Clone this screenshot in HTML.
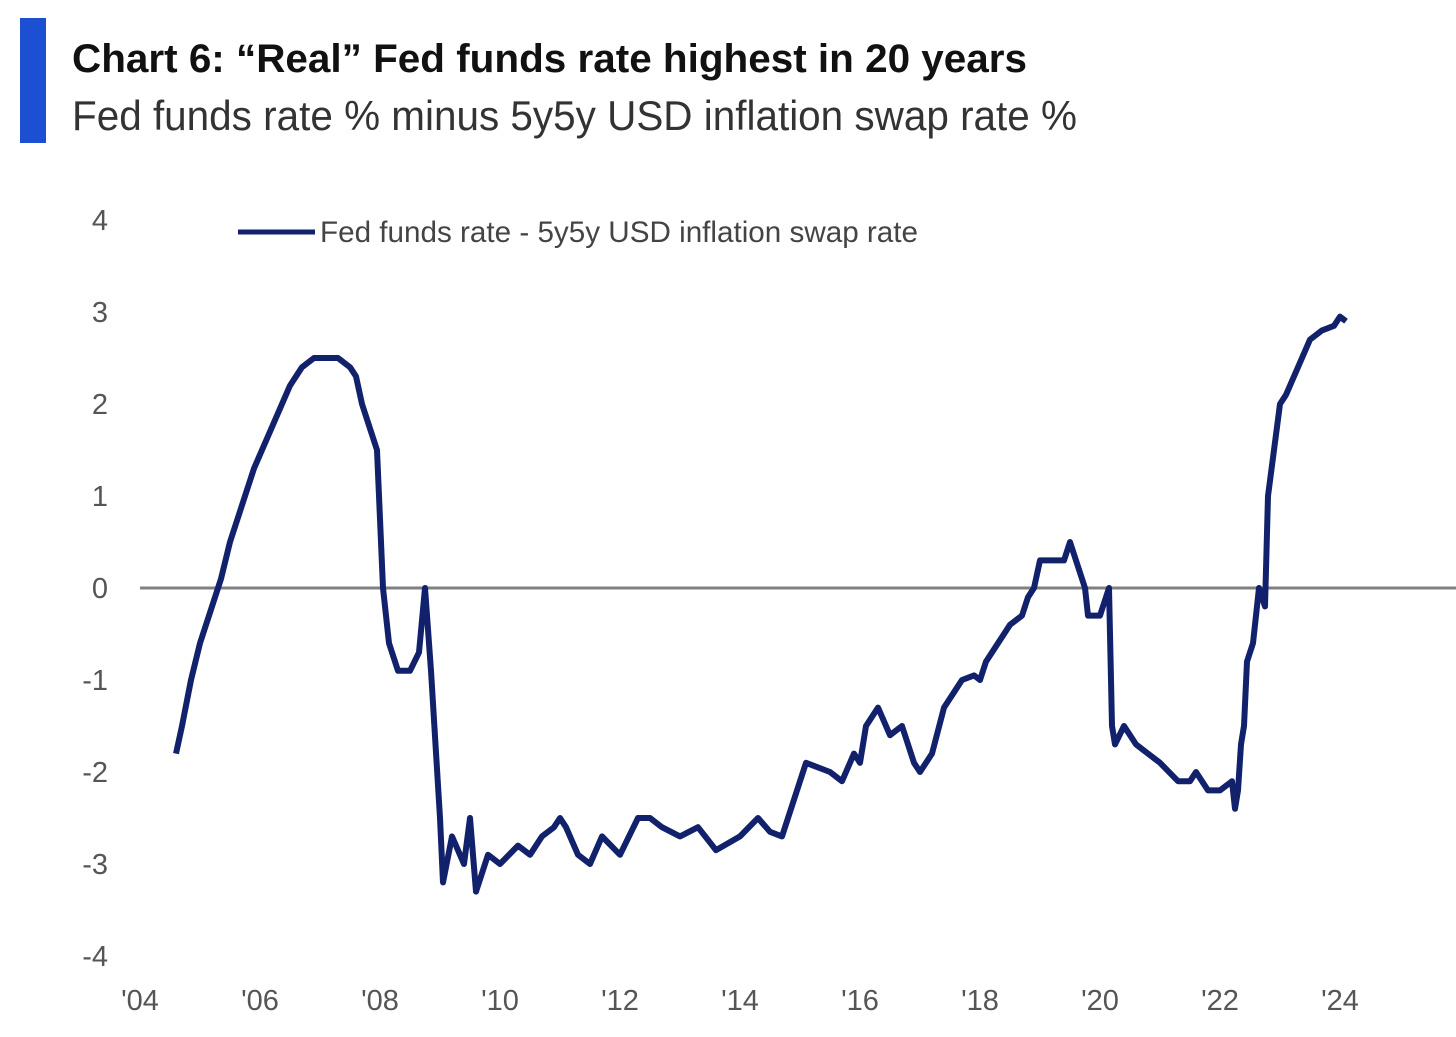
<!DOCTYPE html>
<html><head><meta charset="utf-8"><style>
body{margin:0;background:#fff;width:1456px;height:1032px;overflow:hidden}
svg text{font-family:"Liberation Sans Narrow","Liberation Sans",sans-serif}
</style></head><body>
<svg id="chart" width="1456" height="1032">
<rect x="20" y="18" width="26" height="125" fill="#1c4fd2"/>
<text x="72" y="72" font-size="40" font-weight="bold" fill="#111" textLength="955" lengthAdjust="spacingAndGlyphs">Chart 6: “Real” Fed funds rate highest in 20 years</text>
<text x="72" y="130" font-size="42" fill="#333" textLength="1005" lengthAdjust="spacingAndGlyphs">Fed funds rate % minus 5y5y USD inflation swap rate %</text>
<g id="yaxis"></g>
<g id="xaxis"></g>
<line x1="140" x2="1456" y1="588" y2="588" stroke="#808080" stroke-width="3"/>
<path id="series" fill="none" stroke="#12216b" stroke-width="6" stroke-linejoin="round"/>
<g>
<line x1="238" x2="315" y1="232" y2="232" stroke="#12216b" stroke-width="5"/>
<text x="320" y="242" font-size="30" fill="#444" textLength="598" lengthAdjust="spacingAndGlyphs">Fed funds rate - 5y5y USD inflation swap rate</text>
</g>
</svg>
<script>
const yTicks=[4,3,2,1,0,-1,-2,-3,-4];
const xTickYears=[2004,2006,2008,2010,2012,2014,2016,2018,2020,2022,2024];
const xTickLabels=["'04","'06","'08","'10","'12","'14","'16","'18","'20","'22","'24"];
const years=[2004.6,2004.7,2004.85,2005.0,2005.2,2005.35,2005.5,2005.7,2005.9,2006.1,2006.3,2006.5,2006.7,2006.9,2007.1,2007.3,2007.5,2007.6,2007.7,2007.8,2007.95,2008.05,2008.15,2008.3,2008.5,2008.65,2008.75,2008.85,2009.0,2009.05,2009.2,2009.4,2009.5,2009.6,2009.8,2010.0,2010.3,2010.5,2010.7,2010.9,2011.0,2011.1,2011.3,2011.5,2011.7,2012.0,2012.3,2012.5,2012.7,2013.0,2013.3,2013.6,2014.0,2014.3,2014.5,2014.7,2015.0,2015.1,2015.5,2015.7,2015.9,2016.0,2016.1,2016.3,2016.5,2016.7,2016.9,2017.0,2017.2,2017.4,2017.6,2017.7,2017.9,2018.0,2018.1,2018.3,2018.5,2018.7,2018.8,2018.9,2019.0,2019.2,2019.4,2019.5,2019.6,2019.75,2019.8,2020.0,2020.15,2020.2,2020.25,2020.4,2020.6,2020.8,2021.0,2021.3,2021.5,2021.6,2021.8,2022.0,2022.2,2022.25,2022.3,2022.35,2022.4,2022.45,2022.55,2022.65,2022.75,2022.8,2022.9,2023.0,2023.1,2023.3,2023.5,2023.7,2023.9,2024.0,2024.1];
const values=[-1.8,-1.5,-1.0,-0.6,-0.2,0.1,0.5,0.9,1.3,1.6,1.9,2.2,2.4,2.5,2.5,2.5,2.4,2.3,2.0,1.8,1.5,0.0,-0.6,-0.9,-0.9,-0.7,0.0,-0.9,-2.5,-3.2,-2.7,-3.0,-2.5,-3.3,-2.9,-3.0,-2.8,-2.9,-2.7,-2.6,-2.5,-2.6,-2.9,-3.0,-2.7,-2.9,-2.5,-2.5,-2.6,-2.7,-2.6,-2.85,-2.7,-2.5,-2.65,-2.7,-2.1,-1.9,-2.0,-2.1,-1.8,-1.9,-1.5,-1.3,-1.6,-1.5,-1.9,-2.0,-1.8,-1.3,-1.1,-1.0,-0.95,-1.0,-0.8,-0.6,-0.4,-0.3,-0.1,0.0,0.3,0.3,0.3,0.5,0.3,0.0,-0.3,-0.3,0.0,-1.5,-1.7,-1.5,-1.7,-1.8,-1.9,-2.1,-2.1,-2.0,-2.2,-2.2,-2.1,-2.4,-2.2,-1.7,-1.5,-0.8,-0.6,0.0,-0.2,1.0,1.5,2.0,2.1,2.4,2.7,2.8,2.85,2.95,2.9];
const xs=y=>140+(y-2004)*60;
const ys=v=>588-v*92;
const NS='http://www.w3.org/2000/svg';
const ya=document.getElementById('yaxis'),xa=document.getElementById('xaxis');
yTicks.forEach(v=>{const t=document.createElementNS(NS,'text');
t.setAttribute('x',108);t.setAttribute('y',ys(v)+10);t.setAttribute('text-anchor','end');
t.setAttribute('font-size','29');t.setAttribute('fill','#555');t.textContent=v;


ya.appendChild(t);});
xTickYears.forEach((y,i)=>{const t=document.createElementNS(NS,'text');
t.setAttribute('x',xs(y));t.setAttribute('y',1010);t.setAttribute('text-anchor','middle');
t.setAttribute('font-size','29');t.setAttribute('fill','#555');t.textContent=xTickLabels[i];


xa.appendChild(t);});
document.getElementById('series').setAttribute('d',years.map((y,i)=>(i?'L':'M')+xs(y).toFixed(1)+' '+ys(values[i]).toFixed(1)).join(' '));
</script>
</body></html>
